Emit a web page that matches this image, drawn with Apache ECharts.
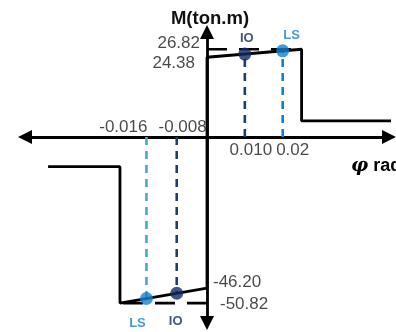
<!DOCTYPE html>
<html>
<head>
<meta charset="utf-8">
<script src="https://cdn.jsdelivr.net/npm/echarts@6/dist/echarts.min.js"></script>
<style>html,body{margin:0;padding:0;background:#fff}#c{width:396px;height:332px}</style>
</head>
<body>
<div id="c"></div>
<script>
// Backbone curve (rotation rad, moment ton.m)
const posCurveX = [0, 0, 0.025, 0.025, 0.05];
const posCurveY = [0, 24.38, 26.82, 4.9, 4.9];
const negCurveX = [0, 0, -0.023, -0.023, -0.042];
const negCurveY = [0, -46.20, -50.82, -9.1, -9.1];
// Performance points
const perfNames = ['IO', 'LS', 'IO', 'LS'];
const perfX = [0.010, 0.020, -0.008, -0.016];
const perfY = [25.36, 26.33, -47.8, -49.4];
// Reference moment levels
const momentLevels = [26.82, 24.38, -46.20, -50.82];
const momentLabels = ['26.82', '24.38', '-46.20', '-50.82'];
// Rotation tick labels
const rotTicks = [-0.016, -0.008, 0.010, 0.02];
const rotTickLabels = ['-0.016', '-0.008', '0.010', '0.02'];

const NAVY = '#102a63', BLUE = '#1580cf', TEAL = '#4aa6c4', NAVYL = '#1f3b70';
const FONT = 'Liberation Sans';

const chart = echarts.init(document.getElementById('c'), null, {renderer: 'canvas'});

function pairs(xs, ys) { return xs.map((x, i) => [x, ys[i]]); }

const dashColors = [NAVYL, BLUE, NAVYL, TEAL];
const dotColors = [NAVY, BLUE, NAVY, BLUE];
const DOT = 13;
const perfLabelOffsets = [[2, -16], [9, -15], [-1, 28], [-9, 25]];
const tickOffsets = [[1, -10, 'right'], [30, -10, 'right'], [6, 13, 'center'], [10, 13, 'center']];
const levelOffsets = [[-7, -6, 'right'], [-12, 6, 'right'], [6, -6, 'left'], [13, 1, 'left']];

const series = [];
perfX.forEach((x, i) => {
  series.push({
    type: 'line', data: [[x, 0], [x, perfY[i]]], symbol: 'none', silent: true,
    lineStyle: {color: dashColors[i], width: 2.6, type: [8, 6]}, z: 2
  });
});
series.push({type: 'line', data: [[0, momentLevels[0]], [posCurveX[2], momentLevels[0]]], symbol: 'none',
  lineStyle: {color: '#000', width: 2.6, type: [20, 12]}, z: 2});
series.push({type: 'line', data: [[0, momentLevels[3]], [negCurveX[2], momentLevels[3]]], symbol: 'none',
  lineStyle: {color: '#000', width: 2.6, type: [20, 12]}, z: 2});
series.push({type: 'line', data: pairs(posCurveX, posCurveY), symbol: 'none', clip: false,
  lineStyle: {color: '#000', width: 2.8}, z: 3});
series.push({type: 'line', data: pairs(negCurveX, negCurveY), symbol: 'none', clip: false,
  lineStyle: {color: '#000', width: 2.8}, z: 3});
perfX.forEach((x, i) => {
  series.push({
    type: 'scatter', data: [[x, perfY[i]]], symbol: 'circle', symbolSize: DOT, z: 5,
    itemStyle: {color: dotColors[i]},
    label: {show: true, formatter: perfNames[i], position: [DOT / 2, DOT / 2], align: 'center', verticalAlign: 'middle',
      offset: perfLabelOffsets[i], color: dotColors[i], fontFamily: FONT, fontWeight: 'bold', fontSize: 13}
  });
});
rotTicks.forEach((x, i) => {
  series.push({
    type: 'scatter', data: [[x, 0]], symbolSize: 0, silent: true, z: 6,
    label: {show: true, formatter: rotTickLabels[i], position: [0, 0], align: tickOffsets[i][2], verticalAlign: 'middle',
      offset: [tickOffsets[i][0], tickOffsets[i][1]], color: '#1a1a1a', fontFamily: FONT, fontSize: 17}
  });
});
momentLevels.forEach((y, i) => {
  series.push({
    type: 'scatter', data: [[0, y]], symbolSize: 0, silent: true, z: 6,
    label: {show: true, formatter: momentLabels[i], position: [0, 0], align: levelOffsets[i][2], verticalAlign: 'middle',
      offset: [levelOffsets[i][0], levelOffsets[i][1]], color: '#1a1a1a', fontFamily: FONT, fontSize: 17}
  });
});

chart.setOption({
  animation: false,
  backgroundColor: '#fff',
  grid: {left: 25, right: 7, top: 32, bottom: 9, containLabel: false, outerBoundsMode: 'none'},
  xAxis: {
    type: 'value', min: -0.0481, max: 0.0481,
    splitLine: {show: false}, axisTick: {show: false}, axisLabel: {show: false},
    axisLine: {onZero: true, symbol: ['triangle', 'triangle'], symbolSize: [14, 14],
      lineStyle: {color: '#000', width: 2.8}},
    name: '{phi|φ} rad', nameLocation: 'end', nameGap: -38,
    nameTextStyle: {align: 'left', verticalAlign: 'top', padding: [20, 0, 0, 0],
      fontFamily: FONT, fontWeight: 'bold', fontSize: 18, color: '#000',
      rich: {phi: {fontStyle: 'italic', fontWeight: 'bold', fontSize: 19, fontFamily: 'DejaVu Serif', color: '#000'}}}
  },
  yAxis: {
    type: 'value', min: -56.9, max: 32.1,
    splitLine: {show: false}, axisTick: {show: false}, axisLabel: {show: false},
    axisLine: {onZero: true, symbol: ['triangle', 'triangle'], symbolSize: [14, 14],
      lineStyle: {color: '#000', width: 2.8}},
    name: 'M(ton.m)', nameLocation: 'end', nameGap: 4,
    nameTextStyle: {fontFamily: FONT, fontWeight: 'bold', fontSize: 18.5, color: '#111', padding: [0, 0, 0, 6]}
  },
  series: series
});
</script>
</body>
</html>
